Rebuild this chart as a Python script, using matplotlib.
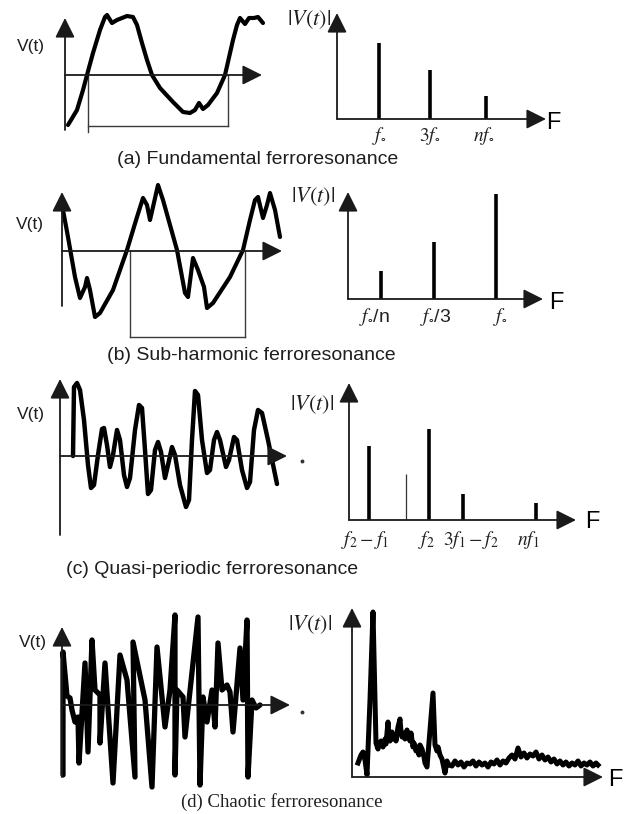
import matplotlib.pyplot as plt

W, H = 626, 814

# ---- (a) fundamental ferroresonance ----
wave_a_t = [3, 12, 18, 22, 28, 35, 40, 42, 47, 52, 62, 68, 72, 77, 82, 87, 95, 108, 118,
            125, 130, 134, 138, 143, 152, 160, 168, 172, 175, 180, 184, 189, 193, 198]
wave_a_v = [-50, -35, -15, 0, 22, 45, 58, 60, 52, 55, 59, 58, 50, 32, 15, 0, -13, -27, -37,
            -38, -35, -28, -34, -30, -18, 0, 35, 50, 57, 51, 57, 57, 58, 52]
period_a = [23, 163]
period_a_depth = -51
spec_a_f = [42, 93, 149]
spec_a_amp = [76, 49, 23]
spec_a_labels = [r'$f_{\circ}$', r'$3f_{\circ}$', r'$nf_{\circ}$']
spec_a_label_x = [42, 93, 147]

# ---- (b) sub-harmonic ferroresonance ----
wave_b_t = [1, 6, 13, 18, 23, 25, 28, 33, 38, 51, 65, 75, 81, 85, 88, 91, 96, 101, 108, 115,
            123, 126, 131, 136, 142, 145, 151, 168, 181, 188, 193, 196, 201, 205, 208, 213, 218]
wave_b_v = [41, 14, -26, -47, -36, -27, -39, -66, -62, -39, 1, 34, 53, 46, 31, 44, 66, 51, 26, 1,
            -42, -46, -7, -19, -36, -57, -52, -26, 1, 31, 51, 54, 33, 46, 58, 41, 14]
period_b = [68, 183]
period_b_depth = -86
spec_b_f = [33, 86, 148]
spec_b_amp = [28, 57, 105]
spec_b_labels = [r'$f_{\circ}$/n', r'$f_{\circ}$/3', r'$f_{\circ}$']
spec_b_label_x = [27, 88, 152]

# ---- (c) quasi-periodic ferroresonance ----
wave_c_t = [13, 14, 17, 20, 24, 28, 31, 34, 38, 42, 44, 47, 50, 53, 57, 60, 64, 67, 70, 75,
            79, 82, 85, 88, 91, 95, 98, 101, 105, 108, 112, 115, 120, 126, 129, 132, 135, 138,
            142, 147, 150, 154, 157, 160, 166, 169, 174, 177, 182, 187, 190, 194, 198, 202,
            208, 217]
wave_c_v = [0, 69, 73, 66, 36, -9, -32, -29, 1, 27, 28, 11, -11, 1, 26, 16, -19, -31, -22, 26,
            51, 48, 6, -38, -34, 6, 14, 4, -22, -9, 9, 1, -29, -51, -44, 16, 65, 61,
            16, -17, -14, 16, 24, 16, -11, -4, 19, 16, -14, -32, -26, 26, 46, 43,
            16, -28]
spec_c_f = [20, 80, 114, 187]
spec_c_amp = [74, 91, 26, 17]
spec_c_thin_f = [57]
spec_c_thin_amp = [46]
spec_c_labels = [r'$f_2 - f_1$', r'$f_2$', r'$3f_1 - f_2$', r'$nf_1$']
spec_c_label_x = [16, 77, 122, 179]

# ---- (d) chaotic ferroresonance ----
wave_d_t = [1, 1, 5, 8, 10, 13, 16, 17, 23, 26, 30, 33, 38, 38, 43, 51, 58, 65, 73, 71, 83,
            90, 95, 103, 108, 113, 113, 115, 121, 123, 136, 138, 141, 145, 150, 153, 156, 160,
            165, 168, 171, 178, 181, 185, 186, 190, 194, 198]
wave_d_v = [-70, 53, 9, 7, -5, -17, -12, -58, 42, -47, 65, 15, 10, -38, 42, -78, 50, 25, -72, 63, 5,
            -82, 58, -22, 15, 90, -70, 15, 8, -32, 88, -80, 8, -17, 15, -22, 62, 15,
            20, 13, -27, 57, 5, 85, -72, 5, -3, 0]
spec_d_f = [6, 9, 11, 13, 15, 18, 21, 23, 24, 26, 27, 29, 31, 33, 34, 36, 37, 38, 40, 41, 43,
            44, 46, 48, 49, 50, 52, 53, 55, 56, 58, 59, 61, 62, 64, 65, 67, 68, 70, 71, 72, 73,
            75, 81, 83, 85, 86, 88, 90, 93, 95, 97,
            100, 103, 106, 109, 112, 115, 118, 121, 124, 127, 130, 133, 136, 139, 142, 145,
            148, 151, 154, 157, 160, 163, 166, 169, 172, 175, 178, 181, 184, 187, 190, 193,
            196, 199, 202, 205, 208, 211, 214, 217, 220, 223, 226, 229, 232, 235, 238, 241,
            244, 246]
spec_d_amp = [14, 22, 25, 17, 2, 77, 165, 77, 34, 28, 33, 36, 30, 38, 33, 55, 40, 36, 45, 38, 42,
              36, 50, 58, 45, 40, 44, 38, 47, 42, 36, 44, 30, 34, 26, 30, 22, 32, 28, 24, 20, 14,
              10, 84, 32, 26, 30, 22, 18, 4, 16, 12,
              11, 16, 12, 15, 10, 14, 13, 16, 11, 15, 12, 14, 10, 15, 13, 17,
              12, 16, 14, 19, 22, 18, 29, 20, 24, 19, 23, 21, 25, 18, 22, 17,
              20, 15, 18, 13, 16, 12, 15, 11, 14, 12, 16, 11, 14, 12, 15, 11,
              14, 12]

LABEL_COLOR = '#1e1e1e'
AXIS_COLOR = '#1a1a1a'

plt.rcParams['font.family'] = ['Liberation Sans', 'DejaVu Sans']
plt.rcParams['mathtext.fontset'] = 'stix'

fig = plt.figure(figsize=(W / 100, H / 100), dpi=100)


def panel(ox, oy, x0, x1, y0, y1):
    # one local unit is one pixel, origin at the axis crossing
    ax = fig.add_axes([(ox + x0) / W, (H - (oy - y0)) / H, (x1 - x0) / W, (y1 - y0) / H])
    ax.set_xlim(x0, x1)
    ax.set_ylim(y0, y1)
    ax.axis('off')
    return ax


def arrow(ax, start, end):
    ax.annotate('', xy=end, xytext=start, annotation_clip=False,
                arrowprops=dict(arrowstyle='-|>,head_length=0.6,head_width=0.3',
                                mutation_scale=20, lw=1.3, color=AXIS_COLOR,
                                shrinkA=0, shrinkB=0))


def wave_panel(ox, oy, t, v, x_end, y_bot, y_top, label_xy, dot=None, period=None, depth=None,
               lw=3.0):
    ax = panel(ox, oy, -60, x_end + 30, y_bot - 10, y_top + 10)
    arrow(ax, (0, y_bot), (0, y_top))
    arrow(ax, (0, 0), (x_end, 0))
    if period is not None:
        ax.plot([period[0], period[0]], [0, depth - 6 if depth > -60 else depth],
                color='#3a3a3a', lw=1.0, clip_on=False)
        ax.plot(period, [depth, depth], color='#3a3a3a', lw=1.0, clip_on=False)
        ax.plot([period[1], period[1]], [0, depth], color='#3a3a3a', lw=1.0, clip_on=False)
    ax.plot(t, v, color='black', lw=lw, solid_joinstyle='round', solid_capstyle='round',
            clip_on=False)
    ax.text(label_xy[0], label_xy[1], 'V(t)', fontsize=12.5, color=LABEL_COLOR,
            ha='center', va='center')
    if dot is not None:
        ax.plot(dot[0], dot[1], marker='o', ms=1.8, color='#333333')
    return ax


def spec_panel(ox, oy, x_end, y_top, vlabel_xy, f_xy):
    ax = panel(ox, oy, -70, x_end + 40, -35, y_top + 10)
    arrow(ax, (0, 0), (0, y_top))
    arrow(ax, (0, 0), (x_end, 0))
    ax.text(vlabel_xy[0], vlabel_xy[1], r'$|V(t)|$', fontsize=16, color=LABEL_COLOR,
            ha='center', va='center')
    ax.text(f_xy[0], f_xy[1], 'F', fontsize=17, color='black', ha='center', va='center')
    return ax


def tick_labels(ax, xs, labels, y):
    for x, s in zip(xs, labels):
        ax.text(x, y, s, fontsize=14, color='#222222', ha='center', va='center')


# (a)
wave_panel(65, 75, wave_a_t, wave_a_v, 197, -55, 57, (-34, 28),
           period=period_a, depth=period_a_depth)
ax = spec_panel(337, 119, 209, 106, (-28, 99), (216, -4))
ax.vlines(spec_a_f, 0, spec_a_amp, color='black', lw=2.6)
tick_labels(ax, spec_a_label_x, spec_a_labels, -17)
fig.text(258 / W, 1 - 160 / H, '(a) Fundamental ferroresonance', fontsize=14,
         color=LABEL_COLOR, ha='center', va='center')

# (b)
wave_panel(62, 251, wave_b_t, wave_b_v, 220, -55, 59, (-32, 26),
           period=period_b, depth=period_b_depth)
ax = spec_panel(348, 299, 195, 107, (-35, 102), (208, -4))
ax.vlines(spec_b_f, 0, spec_b_amp, color='black', lw=2.6)
tick_labels(ax, spec_b_label_x, spec_b_labels, -18)
fig.text(251 / W, 1 - 355 / H, '(b) Sub-harmonic ferroresonance', fontsize=14,
         color=LABEL_COLOR, ha='center', va='center')

# (c)
wave_panel(60, 456, wave_c_t, wave_c_v, 227, -79, 77, (-29, 42), dot=(242, -5), lw=3.2)
ax = spec_panel(349, 520, 227, 137, (-37, 115), (243, -2))
ax.vlines(spec_c_f, 0, spec_c_amp, color='black', lw=2.6)
ax.vlines(spec_c_thin_f, 0, spec_c_thin_amp, color='#333333', lw=0.9)
tick_labels(ax, spec_c_label_x, spec_c_labels, -20)
fig.text(212 / W, 1 - 570 / H, '(c) Quasi-periodic ferroresonance', fontsize=14,
         color=LABEL_COLOR, ha='center', va='center')

# (d)
wave_panel(62, 705, wave_d_t, wave_d_v, 228, -72, 78, (-29, 63), dot=(240, -7), lw=3.8)
ax = spec_panel(352, 777, 251, 169, (-42, 152), (263, -3))
ax.plot(spec_d_f, spec_d_amp, color='black', lw=3.6, solid_joinstyle='round')
fig.text(282 / W, 1 - 802 / H, '(d) Chaotic ferroresonance', fontsize=13.5,
         family=['Liberation Serif', 'DejaVu Serif'], color=LABEL_COLOR,
         ha='center', va='center')

fig.savefig('out.png', dpi=100)
